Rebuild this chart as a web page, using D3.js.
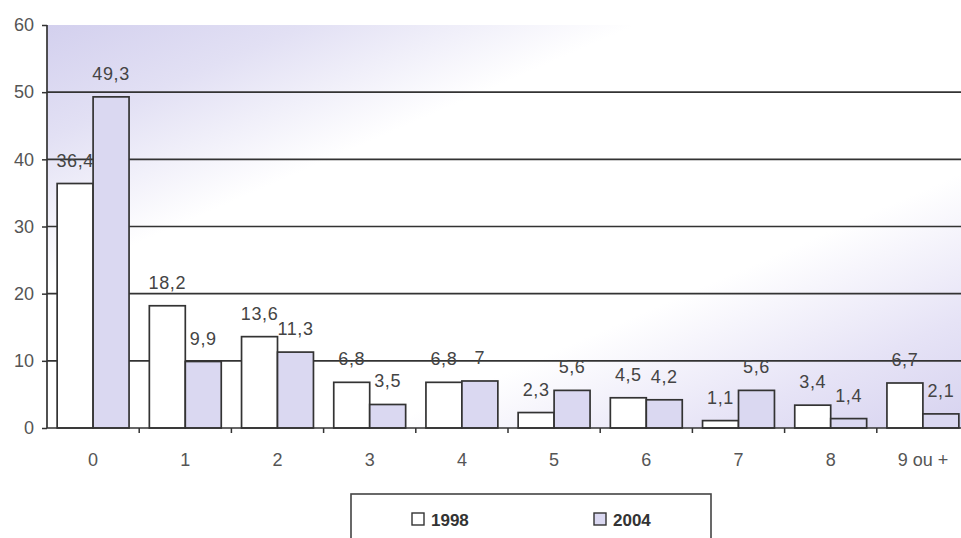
<!DOCTYPE html>
<html>
<head>
<meta charset="utf-8">
<script src="https://cdn.jsdelivr.net/npm/d3@7"></script>
<style>
  html, body { margin: 0; padding: 0; background: #fff; }
  svg { display: block; font-family: "Liberation Sans", Arial, sans-serif; }
</style>
</head>
<body>
<svg id="chart" width="961" height="538"></svg>
<script>
// Number of children per household, share (%) in 1998 and 2004
const categories = ["0", "1", "2", "3", "4", "5", "6", "7", "8", "9 ou +"];
const values1998 = [36.4, 18.2, 13.6, 6.8, 6.8, 2.3, 4.5, 1.1, 3.4, 6.7];
const values2004 = [49.3, 9.9, 11.3, 3.5, 7, 5.6, 4.2, 5.6, 1.4, 2.1];
const seriesNames = ["1998", "2004"];
const yTicks = [0, 10, 20, 30, 40, 50, 60];

(function draw() {
  const fmt = v => String(v).replace(".", ",");

  const svg = d3.select("#chart");
  const plotL = 47, plotR = 969, plotT = 25, plotB = 428;

  const x = d3.scaleBand().domain(categories).range([plotL, plotR])
    .paddingInner(0.22).paddingOuter(0.11);
  const xs = d3.scaleBand().domain(seriesNames).range([0, x.bandwidth()]);
  const y = d3.scaleLinear().domain([0, 60]).range([plotB, plotT]);

  const fills = { "1998": "#ffffff", "2004": "#dad8f1" };
  const ink = "#333";

  // Plot-area background: diagonal lavender-white-lavender wash
  const defs = svg.append("defs");
  const grad = defs.append("linearGradient").attr("id", "bg")
    .attr("x1", 0).attr("y1", 0).attr("x2", 1).attr("y2", 1);
  [[0, "#d3d0ee"], [0.14, "#e2e0f4"], [0.32, "#ffffff"], [0.68, "#ffffff"], [0.86, "#e6e3f6"], [1, "#d6d2ef"]]
    .forEach(([o, c]) => grad.append("stop").attr("offset", o).attr("stop-color", c));
  svg.append("rect").attr("x", plotL).attr("y", plotT)
    .attr("width", plotR - plotL).attr("height", plotB - plotT)
    .attr("fill", "url(#bg)");

  // Horizontal gridlines
  svg.append("g").selectAll("line").data(yTicks.filter(t => t > 0 && t < 60)).join("line")
    .attr("x1", plotL).attr("x2", plotR)
    .attr("y1", d => y(d)).attr("y2", d => y(d))
    .attr("stroke", ink).attr("stroke-width", 1.6);

  // Bars
  const rows = categories.map((c, i) => ({ c, vals: [
    { s: "1998", v: values1998[i] }, { s: "2004", v: values2004[i] }] }));
  const groups = svg.append("g").selectAll("g").data(rows).join("g")
    .attr("transform", d => `translate(${x(d.c)},0)`);
  groups.selectAll("rect").data(d => d.vals).join("rect")
    .attr("x", d => xs(d.s)).attr("width", xs.bandwidth())
    .attr("y", d => y(d.v)).attr("height", d => y(0) - y(d.v))
    .attr("fill", d => fills[d.s]).attr("stroke", ink).attr("stroke-width", 1.7);

  // Value labels
  groups.selectAll("text").data(d => d.vals).join("text")
    .attr("x", d => xs(d.s) + xs.bandwidth() / 2)
    .attr("y", d => y(d.v) - 17)
    .attr("text-anchor", "middle")
    .attr("font-size", 18).attr("letter-spacing", 0.6).attr("fill", "#444")
    .text(d => fmt(d.v));

  // Y axis
  const yAxis = svg.append("g").attr("transform", `translate(${plotL},0)`)
    .call(d3.axisLeft(y).tickValues(yTicks).tickSize(5).tickPadding(8));
  yAxis.select(".domain").attr("stroke", ink).attr("stroke-width", 1.7).attr("d", `M0,${plotT}V${plotB}`);
  yAxis.selectAll(".tick line").attr("stroke", ink).attr("stroke-width", 1.5);
  yAxis.selectAll(".tick text").attr("font-size", 18).attr("fill", "#555")
    .attr("font-family", "Liberation Sans, Arial, sans-serif");

  // X axis: line, boundary ticks between groups, category labels
  const xg = svg.append("g");
  xg.append("line").attr("x1", plotL).attr("x2", plotR).attr("y1", plotB).attr("y2", plotB)
    .attr("stroke", ink).attr("stroke-width", 1.7);
  const gap = (x.step() - x.bandwidth()) / 2;
  xg.selectAll("line.tk").data(categories.slice(1)).join("line").attr("class", "tk")
    .attr("x1", d => x(d) - gap).attr("x2", d => x(d) - gap)
    .attr("y1", plotB).attr("y2", plotB + 5)
    .attr("stroke", ink).attr("stroke-width", 1.5);
  xg.selectAll("text").data(categories).join("text")
    .attr("x", d => x(d) + x.bandwidth() / 2).attr("y", 466)
    .attr("text-anchor", "middle").attr("font-size", 18).attr("fill", "#555")
    .text(d => d);

  // Legend
  const lg = svg.append("g");
  lg.append("rect").attr("x", 351).attr("y", 494).attr("width", 360).attr("height", 60)
    .attr("fill", "#fff").attr("stroke", "#444").attr("stroke-width", 1.6);
  const legendX = { "1998": 412, "2004": 594 };
  seriesNames.forEach(s => {
    lg.append("rect").attr("x", legendX[s]).attr("y", 513).attr("width", 12).attr("height", 12)
      .attr("fill", fills[s]).attr("stroke", ink).attr("stroke-width", 1.4);
    lg.append("text").attr("x", legendX[s] + 19).attr("y", 526)
      .attr("font-size", 17).attr("font-weight", "bold").attr("fill", "#333").text(s);
  });
})();
</script>
</body>
</html>
